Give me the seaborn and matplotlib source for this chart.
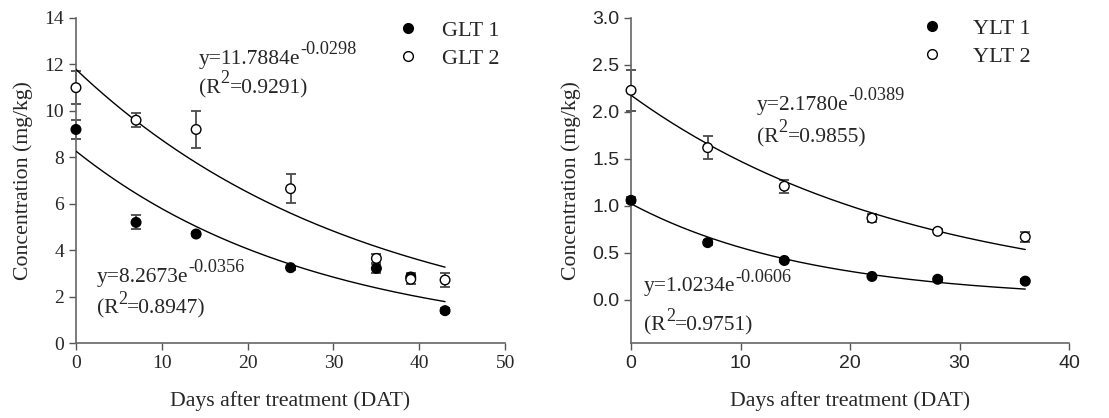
import matplotlib
matplotlib.use("Agg")
import matplotlib.pyplot as plt
import seaborn as sns
import pandas as pd
import numpy as np

# GLT data (left panel)
glt_days = [0, 7, 14, 25, 35, 39, 43]
glt1 = [9.2, 5.2, 4.7, 3.25, 3.22, 2.85, 1.4]
glt1_err = [0.4, 0.3, 0.1, 0.08, 0.18, 0.15, 0.1]
glt2 = [11.0, 9.6, 9.2, 6.65, 3.65, 2.75, 2.72]
glt2_err = [0.7, 0.3, 0.8, 0.63, 0.18, 0.2, 0.3]

# YLT data (right panel)
ylt_days = [0, 7, 14, 22, 28, 36]
ylt1 = [1.06, 0.61, 0.42, 0.25, 0.22, 0.2]
ylt1_err = [0.03, 0.03, 0.02, 0.015, 0.02, 0.02]
ylt2 = [2.23, 1.62, 1.21, 0.87, 0.73, 0.67]
ylt2_err = [0.22, 0.12, 0.07, 0.04, 0.02, 0.05]

# exponential fits as given in the figure: (a, b, R2)
fit_glt1 = (8.2673, 0.0356, '0.8947')
fit_glt2 = (11.7884, 0.0298, '0.9291')
fit_ylt1 = (1.0234, 0.0606, '0.9751')
fit_ylt2 = (2.1780, 0.0389, '0.9855')

# tick labels
glt_xticks = [0, 10, 20, 30, 40, 50]
glt_yticks = [0, 2, 4, 6, 8, 10, 12, 14]
ylt_xticks = [0, 10, 20, 30, 40]
ylt_yticks = [0.0, 0.5, 1.0, 1.5, 2.0, 2.5, 3.0]

sns.set_style("ticks")
plt.rcParams['font.family'] = ['Liberation Serif', 'DejaVu Serif']

fig = plt.figure(figsize=(11.09, 4.18), dpi=100)
ax1 = fig.add_axes([0.0685, 0.179, 0.387, 0.778])
ax2 = fig.add_axes([0.569, 0.179, 0.395, 0.778])
renderer = fig.canvas.get_renderer()

EQ_SIZE = 15.5


def sup_line(ax, x, y, parts, size=EQ_SIZE):
    # parts: list of (text, is_superscript); drawn one after another
    offset = 0.0
    for txt, sup in parts:
        fs = size * 0.85 if sup else size
        dy = size * 0.45 if sup else 0
        t = ax.annotate(txt, xy=(x, y), xycoords='data', xytext=(offset, dy),
                        textcoords='offset points', fontsize=fs, va='baseline')
        bb = t.get_window_extent(renderer)
        offset += bb.width * 72 / fig.dpi


def eq_label(ax, x, y1, y2, fit):
    a, b, r2 = fit
    sup_line(ax, x, y1, [('y=%.4fe' % a, False), ('-%.4f' % b, True)])
    sup_line(ax, x, y2, [('(R', False), ('2', True), ('=%s)' % r2, False)])


def draw_panel(ax, days, s1, e1, s2, e2, f1, f2, names, pad):
    df = pd.DataFrame({'day': days + days,
                       'conc': s1 + s2,
                       'series': [names[0]] * len(days) + [names[1]] * len(days)})
    for s, e in [(s1, e1), (s2, e2)]:
        eb = ax.errorbar(days, s, yerr=e, fmt='none', ecolor='#4a4a4a', elinewidth=1.3,
                         capsize=3.8, capthick=1.3, zorder=2)
        for art in eb.lines[1] + eb.lines[2]:
            art.set_clip_on(False)
    xs = np.linspace(0, max(days), 200)
    fits = pd.DataFrame({'x': np.concatenate([xs, xs]),
                         'y': np.concatenate([f1[0] * np.exp(-f1[1] * xs),
                                              f2[0] * np.exp(-f2[1] * xs)]),
                         'fit': ['a'] * len(xs) + ['b'] * len(xs)})
    sns.lineplot(data=fits, x='x', y='y', units='fit', estimator=None, color='black',
                 linewidth=1.0, ax=ax, legend=False, zorder=3)
    sns.scatterplot(data=df, x='day', y='conc', hue='series', style='series',
                    palette={names[0]: 'black', names[1]: 'white'},
                    markers={names[0]: 'o', names[1]: 'o'},
                    edgecolor='black', linewidth=1.0, s=48, ax=ax, zorder=4,
                    clip_on=False)
    sns.despine(ax=ax)
    ax.tick_params(direction='out', length=5, width=1, color='#555555', labelsize=14)
    for sp in ax.spines.values():
        sp.set_color('#666666')
        sp.set_linewidth(1.2)
    ax.set_xlabel('Days after treatment (DAT)', fontsize=15.7, labelpad=14)
    ax.set_ylabel('Concentration (mg/kg)', fontsize=15.7, labelpad=8)
    leg = ax.legend(frameon=False, loc='upper left', fontsize=16,
                    handletextpad=pad, labelspacing=0.35, borderaxespad=0)
    for h in leg.legend_handles:
        h.set_markeredgecolor('black')
        h.set_markersize(7)
    return leg


leg1 = draw_panel(ax1, glt_days, glt1, glt1_err, glt2, glt2_err,
                  fit_glt1, fit_glt2, ['GLT 1', 'GLT 2'], 0.55)
leg1.set_bbox_to_anchor((0.7, 1.02), transform=ax1.transAxes)
ax1.set_xlim(0, 50)
ax1.set_ylim(0, 14)
ax1.set_xticks(glt_xticks)
ax1.set_yticks(glt_yticks)
eq_label(ax1, 14.3, 12.02, 10.77, fit_glt2)
eq_label(ax1, 2.4, 2.63, 1.27, fit_glt1)

leg2 = draw_panel(ax2, ylt_days, ylt1, ylt1_err, ylt2, ylt2_err,
                  fit_ylt1, fit_ylt2, ['YLT 1', 'YLT 2'], 0.85)
leg2.set_bbox_to_anchor((0.615, 1.027), transform=ax2.transAxes)
ax2.set_xlim(0, 40)
ax2.set_ylim(-0.46, 3.0)
ax2.set_xticks(ylt_xticks, [str(v) for v in ylt_xticks],
               fontfamily='Liberation Sans', fontsize=14)
ax2.set_yticks(ylt_yticks, ['%.1f' % v for v in ylt_yticks],
               fontfamily='Liberation Sans', fontsize=14)
eq_label(ax2, 11.5, 2.02, 1.68, fit_ylt2)
eq_label(ax2, 1.2, 0.09, -0.33, fit_ylt1)

fig.savefig('out.png', dpi=100)
